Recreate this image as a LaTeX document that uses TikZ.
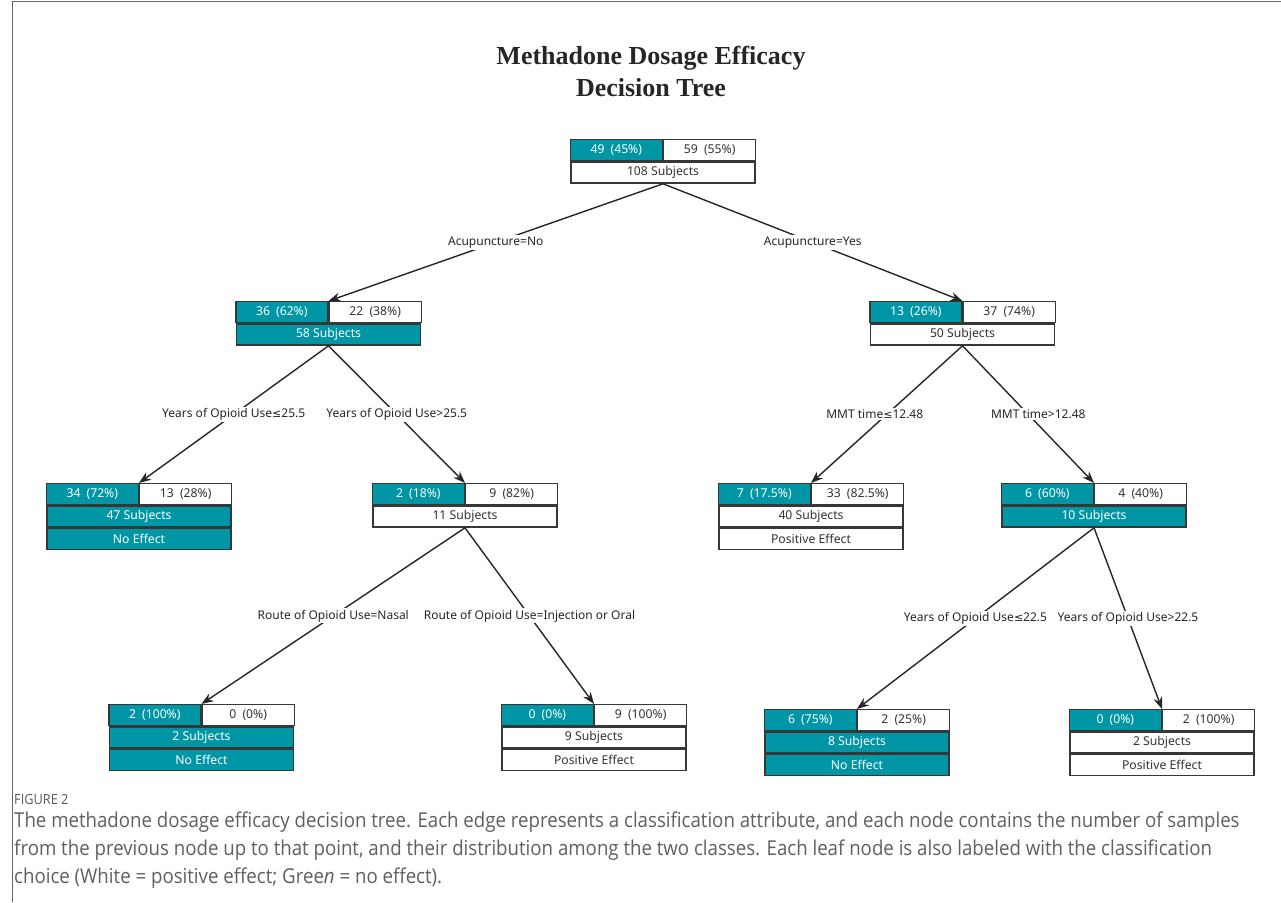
\documentclass[tikz,border=0pt]{standalone}
\usepackage{fontspec}
\setmainfont{Noto Sans}
\newfontfamily\titlefont{Liberation Serif}
\newfontfamily\capfont[FakeStretch=0.91]{Open Sans}
\newfontfamily\symfont{DejaVu Sans}
\usetikzlibrary{arrows.meta}

\definecolor{tealbox}{RGB}{0,150,166}
\definecolor{boxline}{RGB}{55,55,55}
\definecolor{capgray}{RGB}{95,95,95}

% one tree node: name, centre x, top y, left cell, right cell, row style, subjects
\newcommand{\splitbox}[7]{%
  \node[cell, noeff, anchor=north east] (#1-l) at (#2,#3) {#4};
  \node[cell, anchor=north west] (#1-r) at (#2,#3) {#5};
  \node[row, #6, anchor=north] (#1-s) at (#1-l.south east) {#7};
}
% extra leaf row under a node
\newcommand{\leafrow}[3]{\node[row, #2, anchor=north] (#1-e) at (#1-s.south) {#3};}
\newcommand{\cnt}[2]{#1\enspace(#2\%)}
\newcommand{\lesym}{{\symfont\fontsize{11}{13}\selectfont ≤}}

\begin{document}
\begin{tikzpicture}[x=1pt, y=-1pt,
  cell/.style={draw=boxline, line width=1.4pt, fill=white, minimum width=92pt,
    minimum height=21pt, inner sep=0pt, font=\fontsize{12.2}{14}\selectfont, text=black!80},
  row/.style={cell, minimum width=184pt},
  noeff/.style={fill=tealbox, text=white},
  poseff/.style={fill=white},
  edge/.style={draw=black!85, line width=1.4pt, -{Stealth[length=12pt, width=9pt]}},
  elabel/.style={fill=white, inner sep=1.5pt, font=\fontsize{12}{14}\selectfont, text=black!85}]
  \useasboundingbox (0,0) rectangle (1281,902);
  \draw[black!60, line width=0.8pt] (12,902) -- (12,1) -- (1281,1);

  % title
  \node[font=\titlefont\bfseries\fontsize{26}{32}\selectfont, align=center, text=black!85]
    (title) at (651,71) {Methadone Dosage Efficacy\\Decision Tree};

  % tree nodes
  \splitbox{root}{663}{139}{\cnt{49}{45}}{\cnt{59}{55}}{poseff}{108 Subjects}
  \splitbox{lft}{328.5}{301}{\cnt{36}{62}}{\cnt{22}{38}}{noeff}{58 Subjects}
  \splitbox{rgt}{962.5}{301}{\cnt{13}{26}}{\cnt{37}{74}}{poseff}{50 Subjects}
  \splitbox{a}{139}{483}{\cnt{34}{72}}{\cnt{13}{28}}{noeff}{47 Subjects}
  \leafrow{a}{noeff}{No Effect}
  \splitbox{b}{465}{483}{\cnt{2}{18}}{\cnt{9}{82}}{poseff}{11 Subjects}
  \splitbox{c}{811}{483}{\cnt{7}{17.5}}{\cnt{33}{82.5}}{poseff}{40 Subjects}
  \leafrow{c}{poseff}{Positive Effect}
  \splitbox{d}{1094}{483}{\cnt{6}{60}}{\cnt{4}{40}}{noeff}{10 Subjects}
  \splitbox{e}{201.5}{704}{\cnt{2}{100}}{\cnt{0}{0}}{noeff}{2 Subjects}
  \leafrow{e}{noeff}{No Effect}
  \splitbox{f}{594}{704}{\cnt{0}{0}}{\cnt{9}{100}}{poseff}{9 Subjects}
  \leafrow{f}{poseff}{Positive Effect}
  \splitbox{g}{857}{709}{\cnt{6}{75}}{\cnt{2}{25}}{noeff}{8 Subjects}
  \leafrow{g}{noeff}{No Effect}
  \splitbox{h}{1162}{709}{\cnt{0}{0}}{\cnt{2}{100}}{poseff}{2 Subjects}
  \leafrow{h}{poseff}{Positive Effect}

  % branches
  \draw[edge] (root-s.south) -- node[elabel]{Acupuncture=No} (lft-l.north east);
  \draw[edge] (root-s.south) -- node[elabel]{Acupuncture=Yes} (rgt-l.north east);
  \draw[edge] (lft-s.south) -- node[elabel]{Years of Opioid Use\lesym25.5} (a-l.north east);
  \draw[edge] (lft-s.south) -- node[elabel]{Years of Opioid Use>25.5} (b-l.north east);
  \draw[edge] (rgt-s.south) -- node[elabel, xshift=-12pt]{MMT time\lesym12.48} (c-l.north east);
  \draw[edge] (rgt-s.south) -- node[elabel, xshift=10pt]{MMT time>12.48} (d-l.north east);
  \draw[edge] (b-s.south) -- node[elabel]{Route of Opioid Use=Nasal} (e-l.north east);
  \draw[edge] (b-s.south) -- node[elabel]{Route of Opioid Use=Injection or Oral} (f-l.north east);
  \draw[edge] (d-s.south) -- node[elabel]{Years of Opioid Use\lesym22.5} (g-l.north east);
  \draw[edge] (d-s.south) -- node[elabel]{Years of Opioid Use>22.5} (h-l.north east);

  % caption
  \node[anchor=west, inner sep=0pt, text=black!65, font=\capfont\fontsize{14}{16}\selectfont]
    (figlabel) at (14,799) {FIGURE 2};
  \node[anchor=north west, align=left, inner sep=0pt, text=capgray,
    font=\capfont\fontsize{20.5}{28}\selectfont] (caption) at (14,812)
    {The methadone dosage efficacy decision tree. Each edge represents a classification attribute, and each node contains the number of samples\\
     from the previous node up to that point, and their distribution among the two classes. Each leaf node is also labeled with the classification\\
     choice (White = positive effect; Gree\textit{n} = no effect).};
\end{tikzpicture}
\end{document}
